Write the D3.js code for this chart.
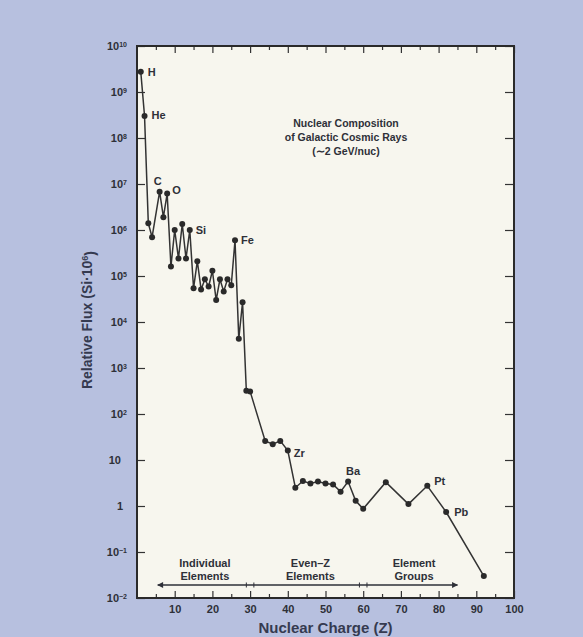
<!DOCTYPE html>
<html>
<head>
<meta charset="utf-8">
<script src="https://cdn.jsdelivr.net/npm/d3@7"></script>
<style>
  body { margin: 0; background: #b7c0df; }
  svg { display: block; }
  text { font-family: "Liberation Sans", Arial, sans-serif; font-weight: bold; fill: #2e3038; }
</style>
</head>
<body>
<div id="chart"></div>
<script>
// Nuclear charge Z of each plotted point
const chargeZ = [1, 2, 3, 4, 6, 7, 8, 9, 10, 11, 12, 13, 14, 15, 16, 17, 18, 19, 20,
  21, 22, 23, 24, 25, 26, 27, 28, 29, 30, 34, 36, 38, 40, 42, 44, 46, 48, 50, 52,
  54, 56, 58, 60, 66, 72, 77, 82, 92];

// Relative flux (Si = 10^6)
const relFlux = [2.75e9, 3.0e8, 1.4e6, 7.0e5, 6.8e6, 1.9e6, 6.2e6, 1.6e5, 1.0e6, 2.4e5,
  1.35e6, 2.4e5, 1.0e6, 5.4e4, 2.1e5, 5.1e4, 8.5e4, 5.9e4, 1.3e5, 3.0e4,
  8.5e4, 4.6e4, 8.5e4, 6.3e4, 6.0e5, 4.3e3, 2.7e4, 320, 310, 26,
  22, 26, 16, 2.5, 3.5, 3.1, 3.4, 3.1, 2.95, 2.05,
  3.4, 1.3, 0.87, 3.3, 1.1, 2.75, 0.74, 0.03];

// Named elements
const labelNames = ["H", "He", "C", "O", "Si", "Fe", "Zr", "Ba", "Pt", "Pb"];
const labelZ = [1, 2, 6, 8, 14, 26, 40, 56, 77, 82];

// Axis ticks
const yDecades = [-2, -1, 0, 1, 2, 3, 4, 5, 6, 7, 8, 9, 10];
const xMajorTicks = [10, 20, 30, 40, 50, 60, 70, 80, 90, 100];
const xMinorTicks = [5, 15, 25, 35, 45, 55, 65, 75, 85, 95];

// Composition groups along the bottom
const groupLines = [["Individual", "Elements"], ["Even\u2013Z", "Elements"], ["Element", "Groups"]];
const groupCenters = [18, 46, 73.5];

const width = 583;
const height = 637;
const margin = { top: 46, right: 69, bottom: 39, left: 137 };

const svg = d3.select("#chart")
  .append("svg")
  .attr("width", width)
  .attr("height", height);

const x = d3.scaleLinear()
  .domain([0, 100])
  .range([margin.left, width - margin.right]);

const y = d3.scaleLog()
  .domain([1e-2, 1e10])
  .range([height - margin.bottom, margin.top]);

// plot panel
svg.append("rect")
  .attr("x", margin.left)
  .attr("y", margin.top)
  .attr("width", width - margin.left - margin.right)
  .attr("height", height - margin.top - margin.bottom)
  .attr("fill", "#f7f6ee");

const tickVals = yDecades.map(e => Math.pow(10, e));

// left axis with inward ticks and 10^n labels
const leftAxis = svg.append("g")
  .attr("transform", `translate(${margin.left},0)`)
  .call(d3.axisLeft(y).tickValues(tickVals).tickSize(-8).tickSizeOuter(0).tickPadding(10));

leftAxis.selectAll(".tick text")
  .style("font-size", "11px")
  .text(null)
  .each(function (d) {
    const e = Math.round(Math.log10(d));
    const t = d3.select(this);
    if (e === 0) {
      t.attr("x", -14).text("1");
    } else if (e === 1) {
      t.attr("x", -16).text("10");
    } else {
      t.append("tspan").text("10");
      t.append("tspan")
        .attr("dy", "-0.5em")
        .style("font-size", "7px")
        .text(e < 0 ? "\u2212" + Math.abs(e) : e);
    }
  });

// right axis
svg.append("g")
  .attr("transform", `translate(${width - margin.right},0)`)
  .call(d3.axisRight(y).tickValues(tickVals).tickSize(-9).tickSizeOuter(0).tickFormat(""));

// bottom axis
const bottomAxis = svg.append("g")
  .attr("transform", `translate(0,${height - margin.bottom})`)
  .call(d3.axisBottom(x).tickValues(xMajorTicks).tickSize(-7).tickSizeOuter(0).tickPadding(7));

bottomAxis.selectAll(".tick text").style("font-size", "11px");

svg.append("g")
  .attr("transform", `translate(0,${height - margin.bottom})`)
  .call(d3.axisBottom(x).tickValues(xMinorTicks).tickSize(-4).tickSizeOuter(0).tickFormat(""));

// top axis
svg.append("g")
  .attr("transform", `translate(0,${margin.top})`)
  .call(d3.axisTop(x).tickValues(xMajorTicks).tickSize(-7).tickSizeOuter(0).tickFormat(""));

svg.append("g")
  .attr("transform", `translate(0,${margin.top})`)
  .call(d3.axisTop(x).tickValues(xMinorTicks).tickSize(-4).tickSizeOuter(0).tickFormat(""));

svg.selectAll(".tick line").attr("stroke", "#333").attr("stroke-width", 1.2);
svg.selectAll(".domain").remove();

// frame
svg.append("rect")
  .attr("x", margin.left)
  .attr("y", margin.top)
  .attr("width", width - margin.left - margin.right)
  .attr("height", height - margin.top - margin.bottom)
  .attr("fill", "none")
  .attr("stroke", "#2a2a2a")
  .attr("stroke-width", 2);

// data line and dots
const points = chargeZ.map((z, i) => ({ z: z, v: relFlux[i] }));

const line = d3.line()
  .x(d => x(d.z))
  .y(d => y(d.v));

svg.append("path")
  .datum(points)
  .attr("d", line)
  .attr("fill", "none")
  .attr("stroke", "#333")
  .attr("stroke-width", 1.5);

svg.selectAll("circle.pt")
  .data(points)
  .enter()
  .append("circle")
  .attr("class", "pt")
  .attr("cx", d => x(d.z))
  .attr("cy", d => y(d.v))
  .attr("r", 3)
  .attr("fill", "#2a2a2a");

// element labels
const labelOffsets = {
  H: [7, 4, "start"], He: [7, 3, "start"], C: [-2, -7, "middle"], O: [5, 0, "start"],
  Si: [6, 4, "start"], Fe: [6, 4, "start"], Zr: [6, 6, "start"], Ba: [5, -7, "middle"],
  Pt: [7, -1, "start"], Pb: [8, 4, "start"]
};

labelNames.forEach((name, i) => {
  const z = labelZ[i];
  const v = relFlux[chargeZ.indexOf(z)];
  const off = labelOffsets[name];
  svg.append("text")
    .attr("x", x(z) + off[0])
    .attr("y", y(v) + off[1])
    .attr("text-anchor", off[2])
    .style("font-size", "11px")
    .text(name);
});

// title inside plot
const titleLines = ["Nuclear Composition", "of Galactic Cosmic Rays", "(\u223C2 GeV/nuc)"];
svg.append("g")
  .selectAll("text")
  .data(titleLines)
  .enter()
  .append("text")
  .attr("x", 346)
  .attr("y", (d, i) => 127 + i * 14)
  .attr("text-anchor", "middle")
  .style("font-size", "10.5px")
  .text(d => d);

// composition groups with double-headed arrow
const arrowY = 585;
svg.append("defs").append("marker")
  .attr("id", "arrowhead")
  .attr("viewBox", "0 0 10 10")
  .attr("refX", 9)
  .attr("refY", 5)
  .attr("markerWidth", 9)
  .attr("markerHeight", 6)
  .attr("orient", "auto-start-reverse")
  .attr("markerUnits", "userSpaceOnUse")
  .append("path")
  .attr("d", "M0,0 L10,5 L0,10 z")
  .attr("fill", "#2e3038");

svg.append("line")
  .attr("x1", x(5.5))
  .attr("x2", x(85))
  .attr("y1", arrowY)
  .attr("y2", arrowY)
  .attr("stroke", "#2e3038")
  .attr("stroke-width", 1.3)
  .attr("marker-start", "url(#arrowhead)")
  .attr("marker-end", "url(#arrowhead)");

[29, 31, 59, 61].forEach(z => {
  svg.append("line")
    .attr("x1", x(z)).attr("x2", x(z))
    .attr("y1", arrowY - 2.5).attr("y2", arrowY + 2.5)
    .attr("stroke", "#2e3038")
    .attr("stroke-width", 1);
});

groupLines.forEach((lines, i) => {
  lines.forEach((txt, j) => {
    svg.append("text")
      .attr("x", x(groupCenters[i]))
      .attr("y", 567 + j * 13)
      .attr("text-anchor", "middle")
      .style("font-size", "11px")
      .text(txt);
  });
});

// axis titles
svg.append("text")
  .attr("x", (margin.left + width - margin.right) / 2)
  .attr("y", 633)
  .attr("text-anchor", "middle")
  .style("font-size", "15px")
  .style("fill", "#353a50")
  .text("Nuclear Charge (Z)");

const yTitle = svg.append("text")
  .attr("transform", "translate(92,320) rotate(-90)")
  .attr("text-anchor", "middle")
  .style("font-size", "14px")
  .style("fill", "#353a50");
yTitle.append("tspan").text("Relative Flux (Si\u00B710");
yTitle.append("tspan").attr("dy", "-0.5em").style("font-size", "9px").text("6");
yTitle.append("tspan").attr("dy", "0.5em").text(")");
</script>
</body>
</html>
